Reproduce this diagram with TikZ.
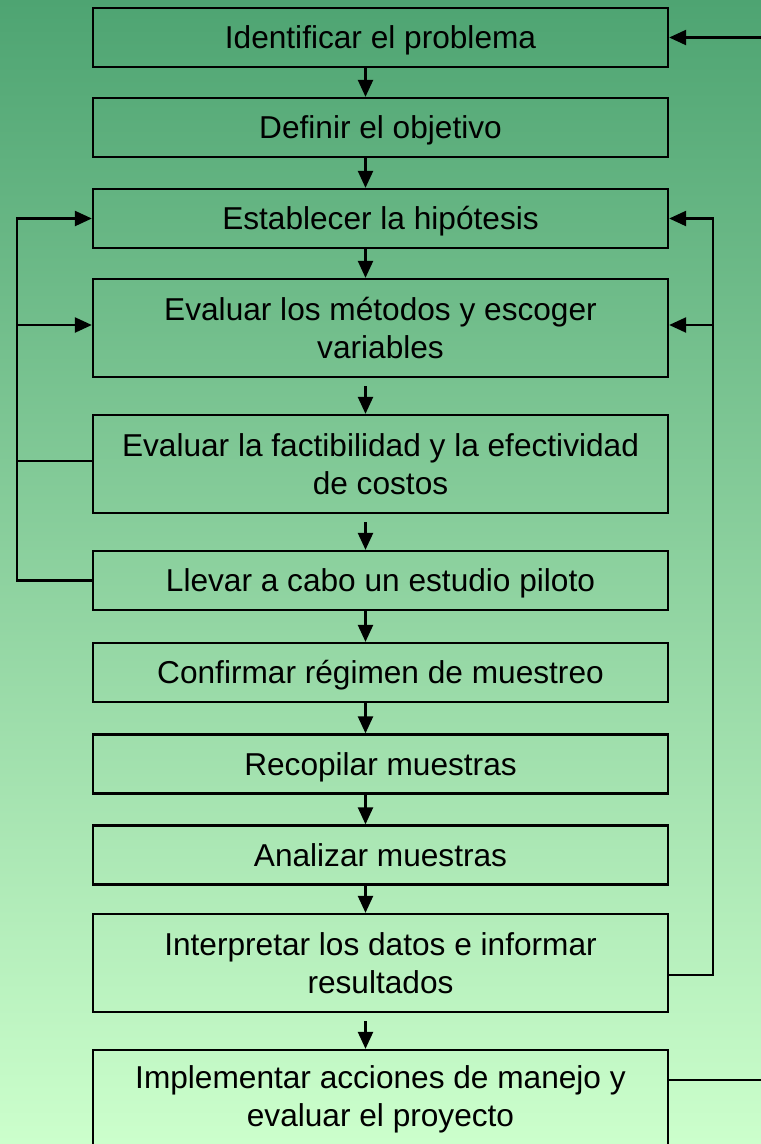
\documentclass[tikz,border=0pt]{standalone}
\usepackage{fontspec}
\setmainfont{Liberation Sans}
\usetikzlibrary{arrows.meta}

\definecolor{bgtop}{RGB}{78,164,114}
\definecolor{bgmid}{RGB}{150,212,160}
\definecolor{bgbot}{RGB}{204,255,204}

\begin{document}
\begin{tikzpicture}
		\tikzstyle {stage two} = [draw, line width=1.3pt, minimum width=11.5cm, minimum height=1.96cm, inner sep=0pt, align=center, font=\fontsize{18}{21.6}\selectfont]
		\tikzstyle {stage} = [draw, line width=1.3pt, minimum width=11.5cm, minimum height=1.18cm, inner sep=0pt, text height=0.55cm, text depth=0.1cm, font=\fontsize{18}{21.6}\selectfont]
		\tikzstyle {flow} = [line width=1.3pt, -{Triangle[length=0.34cm, width=0.3cm]}]
		\tikzstyle {back line} = [line width=1.3pt]

		% background and page size
		\shade[top color=bgtop, middle color=bgmid, bottom color=bgbot] (0,0) rectangle (15.22,-22.88);
		\useasboundingbox (0,0) rectangle (15.22,-22.88);

		\node[stage] (ident) at (7.61,-0.75) {Identificar el problema};
		\node[stage] (objet) at (7.61,-2.55) {Definir el objetivo};
		\node[stage] (hipot) at (7.61,-4.37) {Establecer la hipótesis};
		\node[stage two] (metod) at (7.61,-6.56) {Evaluar los métodos y escoger\\variables};
		\node[stage two] (factib) at (7.61,-9.28) {Evaluar la factibilidad y la efectividad\\de costos};
		\node[stage] (piloto) at (7.61,-11.61) {Llevar a cabo un estudio piloto};
		\node[stage] (regim) at (7.61,-13.45) {Confirmar régimen de muestreo};
		\node[stage] (recop) at (7.61,-15.28) {Recopilar muestras};
		\node[stage] (anal) at (7.61,-17.10) {Analizar muestras};
		\node[stage two] (interp) at (7.61,-19.26) {Interpretar los datos e informar\\resultados};
		\node[stage two] (implem) at (7.61,-21.98) {Implementar acciones de manejo y\\evaluar el proyecto};

		% main chain
		\draw[flow] ([xshift=-0.3cm]ident.south) -- ([xshift=-0.3cm]objet.north);
		\draw[flow] ([xshift=-0.3cm]objet.south) -- ([xshift=-0.3cm]hipot.north);
		\draw[flow] ([xshift=-0.3cm]hipot.south) -- ([xshift=-0.3cm]metod.north);
		\draw[flow, shorten <=0.16cm] ([xshift=-0.3cm]metod.south) -- ([xshift=-0.3cm]factib.north);
		\draw[flow, shorten <=0.16cm] ([xshift=-0.3cm]factib.south) -- ([xshift=-0.3cm]piloto.north);
		\draw[flow] ([xshift=-0.3cm]piloto.south) -- ([xshift=-0.3cm]regim.north);
		\draw[flow] ([xshift=-0.3cm]regim.south) -- ([xshift=-0.3cm]recop.north);
		\draw[flow] ([xshift=-0.3cm]recop.south) -- ([xshift=-0.3cm]anal.north);
		\draw[flow] ([xshift=-0.3cm]anal.south) -- ([xshift=-0.3cm]interp.north);
		\draw[flow, shorten <=0.16cm] ([xshift=-0.3cm]interp.south) -- ([xshift=-0.3cm]implem.north);

		% left feedback
		\coordinate (left) at (0.34,0);
		\draw[flow] (piloto.west) -- (piloto.west -| left) -- (hipot.west -| left) -- (hipot.west);
		\draw[flow] ([yshift=0.06cm]metod.west -| left) -- ([yshift=0.06cm]metod.west);
		\draw[back line] ([yshift=0.06cm]factib.west) -- ([yshift=0.06cm]factib.west -| left);

		% right feedback
		\coordinate (right) at (14.26,0);
		\draw[flow] ([yshift=-0.24cm]interp.east) -- ([yshift=-0.24cm]interp.east -| right) -- (hipot.east -| right) -- (hipot.east);
		\draw[flow] ([yshift=0.06cm]metod.east -| right) -- ([yshift=0.06cm]metod.east);

		% outer loop
		\coordinate (edge) at (15.22,0);
		\draw[flow] (ident.east -| edge) -- (ident.east);
		\draw[back line] ([yshift=0.38cm]implem.east) -- ([yshift=0.38cm]implem.east -| edge);
\end{tikzpicture}
\end{document}
